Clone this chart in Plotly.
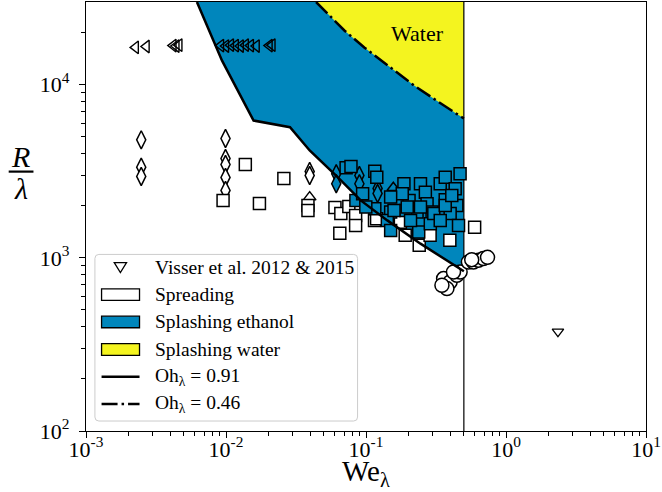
import plotly.graph_objects as go
import math

# ---------------- data ----------------
WE_CRIT = 0.5
R_TOP = 30000
R_BOTTOM = 100

tri_left_we = [0.00226, 0.0027, 0.0042, 0.00441, 0.00463, 0.00918, 0.00997, 0.0108,
               0.0117, 0.0127, 0.0138, 0.0150, 0.0165, 0.0204, 0.0214]
tri_left_r = [16400, 16600, 16800, 16700, 16900, 16800, 16700, 16900,
              16800, 16700, 16900, 16800, 16700, 16800, 16900]

sq_spread_we = [0.01374, 0.0259, 0.00953, 0.01733, 0.0385, 0.0385, 0.060, 0.0661, 0.0754,
                0.0843, 0.0843, 0.065, 0.115, 0.119, 0.176, 0.1905, 0.240, 0.287, 0.397, 0.597]
sq_spread_r = [3458, 2872, 2145, 2062, 2008, 1878, 1955, 1805, 1981,
               1758, 1539, 1384, 1645, 1680, 1602, 1348, 1181, 1348, 1262, 1499]

sq_splash_we = [0.0721, 0.0781, 0.1156, 0.1194, 0.1866, 0.245, 0.2655, 0.339, 0.368, 0.4335,
                0.470, 0.203, 0.273, 0.368, 0.4457, 0.2315, 0.399, 0.192, 0.2965, 0.1815,
                0.0847, 0.0946, 0.1156, 0.150, 0.150, 0.0997, 0.142, 0.150, 0.1585, 0.197,
                0.238, 0.245, 0.288, 0.305, 0.339, 0.458, 0.368, 0.208, 0.41]
sq_splash_r = [3311, 3367, 3164, 2922, 2677, 2677, 2394, 2677, 2922, 2505,
               3057, 2145, 2055, 2165, 2008, 1837, 1805, 1878, 1837, 2344,
               2145, 2344, 1921, 2241, 1837, 1963, 1645, 1440, 1878, 1963,
               1409, 1963, 1574, 1805, 1645, 1539, 2008, 1645, 2292]

dia_spread_we = [0.00248, 0.00248, 0.00248, 0.00992, 0.00992, 0.00992, 0.00992, 0.00992,
                 0.0396, 0.0396]
dia_spread_r = [4800, 3338, 2950, 4886, 3746, 3458, 2911, 2449, 3153, 2989]

dia_splash_we = [0.0613, 0.0613, 0.0897, 0.0897, 0.121, 0.121]
dia_splash_r = [3057, 2677, 2989, 2677, 2516, 2354]

tri_up_spread_we = [0.0396]
tri_up_spread_r = [2241]
tri_up_splash_we = [0.1567]
tri_up_splash_r = [2539]

circ_we = [0.3584, 0.399, 0.3785, 0.4457, 0.470, 0.4216, 0.3486,
           0.539, 0.585, 0.634, 0.689, 0.569, 0.738]
circ_r = [759, 725, 664, 793, 828, 828, 694,
          946, 946, 967, 990, 976, 1006]

visser_we = [2.35]
visser_r = [375]

oh091_we = [0.0062, 0.00937, 0.01574, 0.02865, 0.0396, 0.0630, 0.0917, 0.142, 0.245, 0.5]
oh091_r = [30000, 13750, 6202, 5675, 4165, 2911, 2145, 1645, 1207, 836]

oh046_we = [0.044, 0.0704, 0.0977, 0.149, 0.221, 0.3605, 0.5]
oh046_r = [30000, 20480, 16340, 12530, 9870, 7570, 6370]

x_tickvals = [1e-3, 1e-2, 1e-1, 1, 10]
x_ticktext = ["10<sup>-3</sup>", "10<sup>-2</sup>", "10<sup>-1</sup>", "10<sup>0</sup>", "10<sup>1</sup>"]
y_tickvals = [1e2, 1e3, 1e4]
y_ticktext = ["10<sup>2</sup>", "10<sup>3</sup>", "10<sup>4</sup>"]

legend_labels = ["Visser et al. 2012 &amp; 2015", "Spreading", "Splashing ethanol",
                 "Splashing water", "Oh<sub>λ</sub> = 0.91", "Oh<sub>λ</sub> = 0.46"]

# ---------------- style ----------------
BLUE = "#0086BC"
YELLOW = "#F4F41F"
FONT = "Liberation Serif"
W, H = 662, 492
ML, MR, MT, MB = 86, 11, 1, 61
PW, PH = W - ML - MR, H - MT - MB


def pxx(xp):
    return (xp - ML) / PW


def pxy(yp):
    return (MT + PH - yp) / PH


fig = go.Figure()

# regions
fig.add_trace(go.Scatter(x=oh091_we + [WE_CRIT], y=oh091_r + [R_TOP], fill="toself",
                         fillcolor=BLUE, mode="lines", line=dict(width=0), hoverinfo="skip"))
fig.add_trace(go.Scatter(x=oh046_we + [WE_CRIT], y=oh046_r + [R_TOP], fill="toself",
                         fillcolor=YELLOW, mode="lines", line=dict(width=0), hoverinfo="skip"))
# threshold vertical line
fig.add_trace(go.Scatter(x=[WE_CRIT, WE_CRIT], y=[R_BOTTOM, R_TOP], mode="lines",
                         line=dict(color="black", width=1.2)))

mline = dict(color="black", width=1.5)
fig.add_trace(go.Scatter(x=tri_left_we, y=tri_left_r, mode="markers",
                         marker=dict(symbol="triangle-left-open", size=11, color="black",
                                     line=dict(color="black", width=1.4))))
fig.add_trace(go.Scatter(x=dia_spread_we, y=dia_spread_r, mode="markers",
                         marker=dict(symbol="diamond-tall", size=13, color="white", line=mline)))
fig.add_trace(go.Scatter(x=dia_splash_we, y=dia_splash_r, mode="markers",
                         marker=dict(symbol="diamond-tall", size=13, color=BLUE, line=mline)))
fig.add_trace(go.Scatter(x=tri_up_spread_we, y=tri_up_spread_r, mode="markers",
                         marker=dict(symbol="triangle-up", size=11, color="white", line=mline)))
fig.add_trace(go.Scatter(x=tri_up_splash_we, y=tri_up_splash_r, mode="markers",
                         marker=dict(symbol="triangle-up", size=11, color=BLUE, line=mline)))
fig.add_trace(go.Scatter(x=sq_spread_we, y=sq_spread_r, mode="markers",
                         marker=dict(symbol="square", size=12, color="white", line=mline)))
fig.add_trace(go.Scatter(x=sq_splash_we, y=sq_splash_r, mode="markers",
                         marker=dict(symbol="square", size=12, color=BLUE, line=mline)))
fig.add_trace(go.Scatter(x=circ_we, y=circ_r, mode="markers",
                         marker=dict(symbol="circle", size=14, color="white", line=mline)))
fig.add_trace(go.Scatter(x=visser_we, y=visser_r, mode="markers",
                         marker=dict(symbol="triangle-down-open", size=10, color="black",
                                     line=dict(color="black", width=1.3))))

# boundary lines
fig.add_trace(go.Scatter(x=oh091_we, y=oh091_r, mode="lines",
                         line=dict(color="black", width=2.5)))
fig.add_trace(go.Scatter(x=oh046_we, y=oh046_r, mode="lines",
                         line=dict(color="black", width=2.5, dash="16px,4px,2.5px,4px")))

minor_x = [k * 10 ** e for e in range(-3, 1) for k in range(2, 10)]
minor_y = [k * 10 ** e for e in range(2, 5) for k in range(2, 10) if k * 10 ** e < R_TOP]

axis_common = dict(type="log", showline=True, linecolor="black", linewidth=1.2, mirror=True,
                   ticks="outside", ticklen=6, tickwidth=1.2, tickcolor="black",
                   showgrid=False, zeroline=False, ticklabeloverflow="allow",
                   tickfont=dict(family=FONT, size=22, color="black"))

fig.update_xaxes(range=[-3, 1], tickmode="array", tickvals=x_tickvals, ticktext=x_ticktext,
                 ticklabelstandoff=-8,
                 minor=dict(tickmode="array", tickvals=minor_x, ticks="outside", ticklen=3.5,
                            tickwidth=1, tickcolor="black"),
                 **axis_common)
fig.update_yaxes(range=[2, math.log10(R_TOP)], tickmode="array", tickvals=y_tickvals,
                 ticktext=y_ticktext, ticklabelstandoff=5,
                 minor=dict(tickmode="array", tickvals=minor_y, ticks="outside", ticklen=3.5,
                            tickwidth=1, tickcolor="black"),
                 **axis_common)

shapes = []
annotations = []

# axis titles
annotations.append(dict(text="We<sub>λ</sub>", xref="paper", yref="paper", x=0.5, y=pxy(473),
                        xanchor="center", yanchor="middle", showarrow=False,
                        font=dict(family=FONT, size=29, color="black")))
annotations.append(dict(text="<i>R</i>", xref="paper", yref="paper", x=pxx(20), y=pxy(156),
                        xanchor="center", yanchor="middle", showarrow=False,
                        font=dict(family=FONT, size=30, color="black")))
annotations.append(dict(text="<i>λ</i>", xref="paper", yref="paper", x=pxx(20), y=pxy(188),
                        xanchor="center", yanchor="middle", showarrow=False,
                        font=dict(family=FONT, size=30, color="black")))
shapes.append(dict(type="line", xref="paper", yref="paper", x0=pxx(8), x1=pxx(33),
                   y0=pxy(171), y1=pxy(171), line=dict(color="black", width=2.2)))

# Water label
annotations.append(dict(text="Water", xref="paper", yref="paper", x=pxx(420), y=pxy(33),
                        xanchor="center", yanchor="middle", showarrow=False,
                        font=dict(family=FONT, size=22, color="black")))

# custom legend
L, R, T, B, rad = 95, 360, 254, 421, 4
rx, ry = rad / PW, rad / PH
x0, x1, y0, y1 = pxx(L), pxx(R), pxy(B), pxy(T)
box = (f"M{x0 + rx},{y1} L{x1 - rx},{y1} Q{x1},{y1} {x1},{y1 - ry} "
       f"L{x1},{y0 + ry} Q{x1},{y0} {x1 - rx},{y0} L{x0 + rx},{y0} Q{x0},{y0} {x0},{y0 + ry} "
       f"L{x0},{y1 - ry} Q{x0},{y1} {x0 + rx},{y1} Z")
shapes.append(dict(type="path", path=box, xref="paper", yref="paper",
                   fillcolor="rgba(255,255,255,0.9)", line=dict(color="#cccccc", width=1)))

rows = [266.7, 294.3, 321.7, 349.3, 376.7, 404]
sx0, sx1 = 101.7, 140
# triangle
tc = (120.7, rows[0])
tri = (f"M{pxx(tc[0] - 6.2)},{pxy(tc[1] - 4.5)} L{pxx(tc[0] + 6.2)},{pxy(tc[1] - 4.5)} "
       f"L{pxx(tc[0])},{pxy(tc[1] + 5.5)} Z")
shapes.append(dict(type="path", path=tri, xref="paper", yref="paper",
                   fillcolor="rgba(0,0,0,0)", line=dict(color="black", width=1.3)))
for ry_, col in zip(rows[1:4], ["white", BLUE, YELLOW]):
    shapes.append(dict(type="rect", xref="paper", yref="paper", x0=pxx(sx0), x1=pxx(sx1),
                       y0=pxy(ry_ + 5.8), y1=pxy(ry_ - 5.8), fillcolor=col,
                       line=dict(color="black", width=1.3)))
shapes.append(dict(type="line", xref="paper", yref="paper", x0=pxx(sx0), x1=pxx(sx1),
                   y0=pxy(rows[4]), y1=pxy(rows[4]), line=dict(color="black", width=2.5)))
shapes.append(dict(type="line", xref="paper", yref="paper", x0=pxx(sx0), x1=pxx(sx1),
                   y0=pxy(rows[5]), y1=pxy(rows[5]),
                   line=dict(color="black", width=2.5, dash="16px,4px,2.5px,4px")))
for ry_, lab in zip(rows, legend_labels):
    annotations.append(dict(text=lab, xref="paper", yref="paper", x=pxx(153.3), y=pxy(ry_),
                            xanchor="left", yanchor="middle", showarrow=False,
                            font=dict(family=FONT, size=19.5, color="black")))

fig.update_layout(width=W, height=H, margin=dict(l=ML, r=MR, t=MT, b=MB),
                  paper_bgcolor="white", plot_bgcolor="white", showlegend=False,
                  shapes=shapes, annotations=annotations)

fig.write_html("out.html")
